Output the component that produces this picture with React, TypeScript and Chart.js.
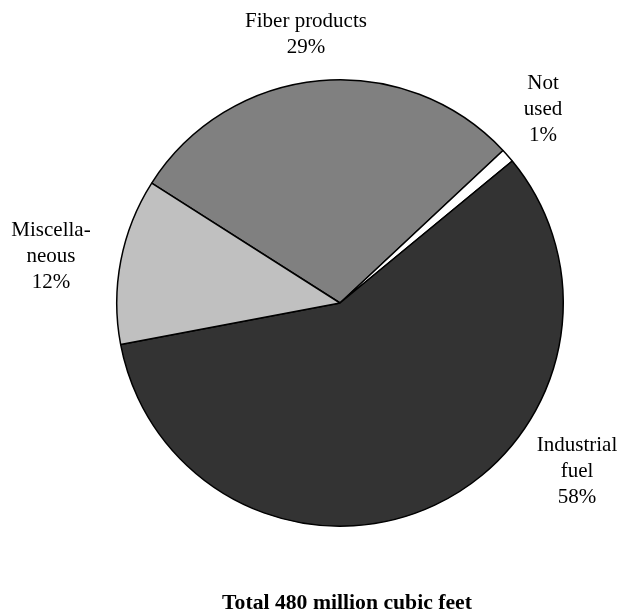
import React, { useEffect, useRef } from "react";
import { Chart, registerables } from "chart.js";

Chart.register(...registerables);

const categories: string[] = ["Fiber products", "Not used", "Industrial fuel", "Miscellaneous"];
const labelLines: string[][] = [["Fiber products"], ["Not", "used"], ["Industrial", "fuel"], ["Miscella-", "neous"]];
const values: number[] = [29, 1, 58, 12];
const colors: string[] = ["#808080", "#ffffff", "#333333", "#c0c0c0"];
const title = "Total 480 million cubic feet";

const FONT = "'Liberation Serif', 'Times New Roman', Times, serif";

// label block centre offsets from the pie centre (layout only)
const labelOffsets: [number, number][] = [
  [-34, -270],
  [203, -195],
  [237, 167],
  [-289, -48],
];

const labelPlugin = {
  id: "outerLabels",
  afterDraw(chart: any) {
    const ctx = chart.ctx;
    const meta = chart.getDatasetMeta(0);
    const ds = chart.data.datasets[0];
    ctx.save();
    ctx.fillStyle = "#000";
    ctx.textAlign = "center";
    ctx.textBaseline = "alphabetic";
    ctx.font = `21px ${FONT}`;
    const lh = 25.7;
    meta.data.forEach((arc: any, i: number) => {
      const lines = [...labelLines[i], `${ds.data[i]}%`];
      const [dx, dy] = labelOffsets[i];
      const cx = arc.x + dx;
      const cy = arc.y + dy;
      const firstBaseline = cy - ((lines.length - 1) * lh) / 2 + 7;
      lines.forEach((ln, k) => ctx.fillText(ln, cx, firstBaseline + k * lh));
    });
    // bottom title
    ctx.font = `bold 21.7px ${FONT}`;
    ctx.fillText(title, 347, 609);
    ctx.restore();
  },
};

export default function App() {
  const ref = useRef<HTMLCanvasElement | null>(null);
  useEffect(() => {
    if (!ref.current) return;
    const chart = new Chart(ref.current, {
      type: "pie",
      data: {
        labels: categories,
        datasets: [
          {
            data: values,
            backgroundColor: colors,
            borderColor: "#000000",
            borderWidth: 1.5,
          },
        ],
      },
      options: {
        animation: false,
        responsive: true,
        maintainAspectRatio: false,
        rotation: -57.5,
        layout: { padding: { left: 116, right: 56, top: 79, bottom: 89 } },
        plugins: {
          legend: { display: false },
          tooltip: { enabled: false },
          title: { display: false },
        },
      },
      plugins: [labelPlugin],
    });
    return () => chart.destroy();
  }, []);
  return (
    <div style={{ position: "absolute", left: 0, top: 0, width: 620, height: 616 }}>
      <canvas ref={ref} />
    </div>
  );
}
